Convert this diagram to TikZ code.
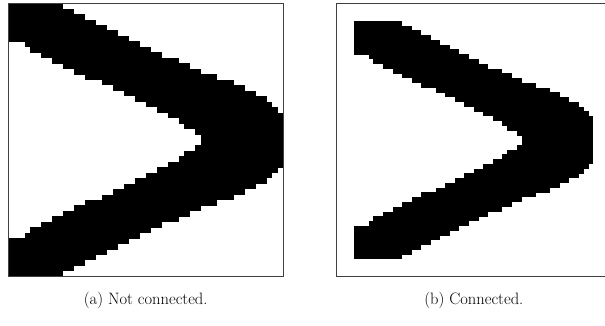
\documentclass[tikz,border=0pt]{standalone}
\usepackage{fontspec}
\newcommand\chevrondata{0/0/10,1/0/12,2/0/14,3/0/16,4/0/18,5/0/20,6/0/22,7/3/24,8/4/26,9/6/28,10/8/31,11/10/33,12/12/35,13/14/38,14/17/41,15/19/43,16/21/45,17/23/47,18/25/48,19/27/49,20/29/50,21/31/50,22/32/50,23/34/50,24/35/50}
\tikzset{
  pix/.style={fill=black},
  frameline/.style={draw=black!75, line width=0.8pt},
  captiontext/.style={font=\fontsize{16.5}{19}\selectfont, inner sep=0pt}
}
\newcommand\drawchevron{%
  \foreach \r/\s/\e in \chevrondata {%
    \fill[pix] (\s,\r-0.03) rectangle (\e,\r+1.03);
    \fill[pix] (\s,49-\r-0.03) rectangle (\e,50-\r+0.03);
  }}
\begin{document}
\begin{tikzpicture}[x=1pt,y=-1pt]
\useasboundingbox (0,0) rectangle (605,325);
\clip (0,0) rectangle (605,325);
\fill[white] (0,0) rectangle (605,325);
% (a) not connected
\begin{scope}
  \clip (8,3.3) rectangle (283.3,276.7);
  \begin{scope}[shift={(8,3.3)},x=5.506pt,y=-5.468pt]
    \drawchevron
  \end{scope}
\end{scope}
\draw[frameline] (8,3.3) rectangle (283.3,276.7);
% (b) connected
\begin{scope}[shift={(354.3,21)},x=4.78pt,y=-4.766pt]
  \drawchevron
\end{scope}
\draw[frameline] (336.3,3.3) rectangle (611.3,276.7);
\node[captiontext] (capa) at (145.7,300) {(a) Not connected.};
\node[captiontext] (capb) at (473.8,300) {(b) Connected.};
\end{tikzpicture}
\end{document}
